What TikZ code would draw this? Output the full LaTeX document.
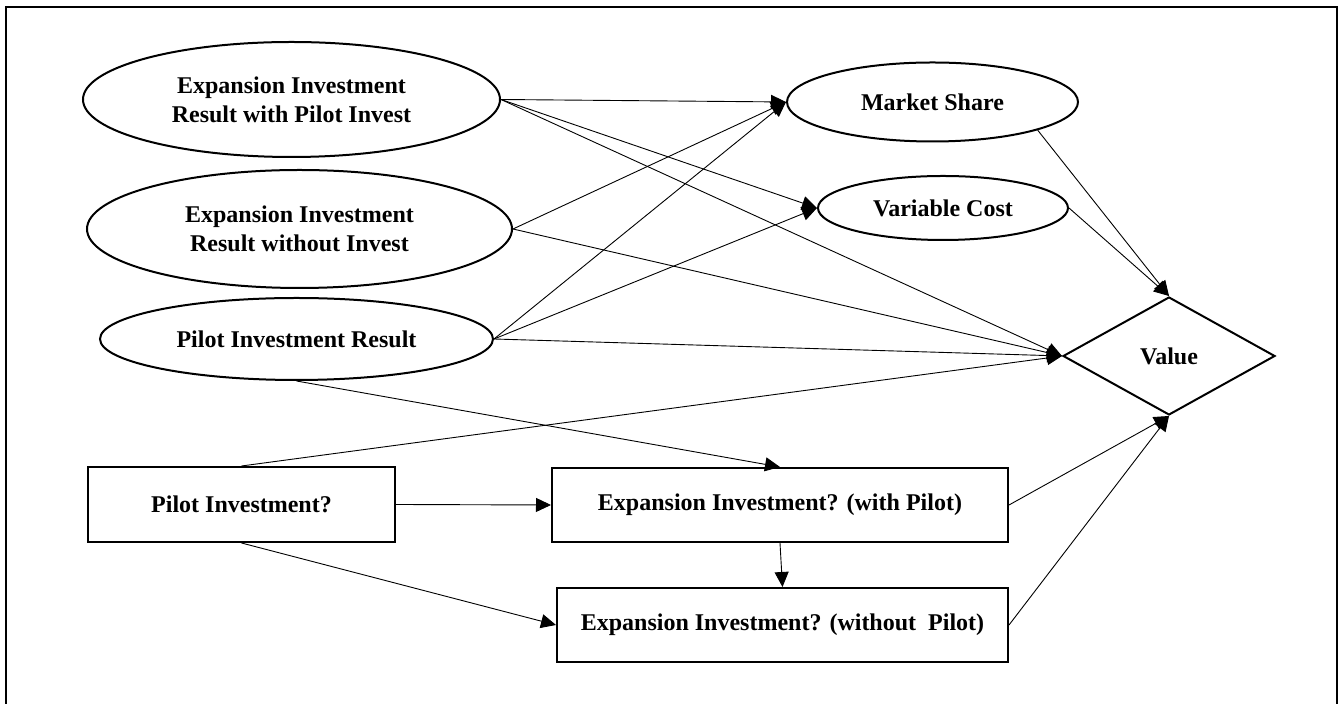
\documentclass[tikz,border=0pt]{standalone}
\usepackage{fontspec}
\setmainfont{Liberation Serif}
\usetikzlibrary{shapes.geometric,arrows.meta}

\begin{document}
\begin{tikzpicture}[x=0.5pt,y=-0.5pt,
        every node/.style={font=\bfseries\fontsize{12}{14.5}\selectfont, align=center},
        chance/.style={ellipse, draw, line width=1pt, inner sep=0pt},
        decision/.style={rectangle, draw, line width=1pt, inner sep=0pt},
        valnode/.style={diamond, draw, line width=1pt, inner sep=0pt},
        link/.style={line width=0.45pt, -{Triangle[length=7.5pt,width=7pt]}},
        plain/.style={line width=0.45pt}]
        \useasboundingbox (0,0) rectangle (1340,704);
        \draw[line width=1pt] (6,720) -- (6,7) -- (1337,7) -- (1337,720);

        % chance nodes
        \node[chance, minimum width=208.5pt, minimum height=57.5pt] (ex1) at (291.5,99.5)
            {Expansion Investment\\Result with Pilot Invest};
        \node[chance, minimum width=212.5pt, minimum height=59pt] (ex2) at (299.5,229)
            {Expansion Investment\\Result without Invest};
        \node[chance, minimum width=196.5pt, minimum height=41pt] (pres) at (296.5,339)
            {Pilot Investment Result};
        \node[chance, minimum width=145.5pt, minimum height=39.5pt] (ms) at (932.5,102) {Market Share};
        \node[chance, minimum width=125pt, minimum height=32pt] (vc) at (943,208) {Variable Cost};

        % value node
        \node[valnode, minimum width=106pt, minimum height=59pt] (val) at (1169,356) {Value};

        % decision nodes
        \node[decision, minimum width=153.5pt, minimum height=37.5pt] (pinv) at (241.5,504.5) {Pilot Investment?};
        \node[decision, minimum width=228pt, minimum height=37pt] (exwp) at (780,505)
            {Expansion Investment? (with Pilot)};
        \node[decision, minimum width=225.5pt, minimum height=37pt] (exnp) at (782.5,625)
            {Expansion Investment? (without\ \ Pilot)};

        % arcs
        \foreach \a/\b in {ex1/ms, ex1/vc, ex1/val, ex2/ms, ex2/val, pres/ms, pres/vc, pres/val} {
            \draw[link] (\a.east) -- (\b.west);
        }
        \draw[link] (ms.-15) -- (val.north);
        \draw[link] (vc.east) -- (val.north);
        \draw[link] (pres.south) -- (exwp.north);
        \draw[link] (pinv.north) -- (val.west);
        \draw[link] (pinv.east) -- (exwp.west);
        \draw[link] (pinv.south) -- (exnp.west);
        \draw[link] (exwp.south) -- (exnp.north);
        \draw[link] (exwp.east) -- (val.south);
        \draw[link] (exnp.east) -- (val.south);
    \end{tikzpicture}
\end{document}
